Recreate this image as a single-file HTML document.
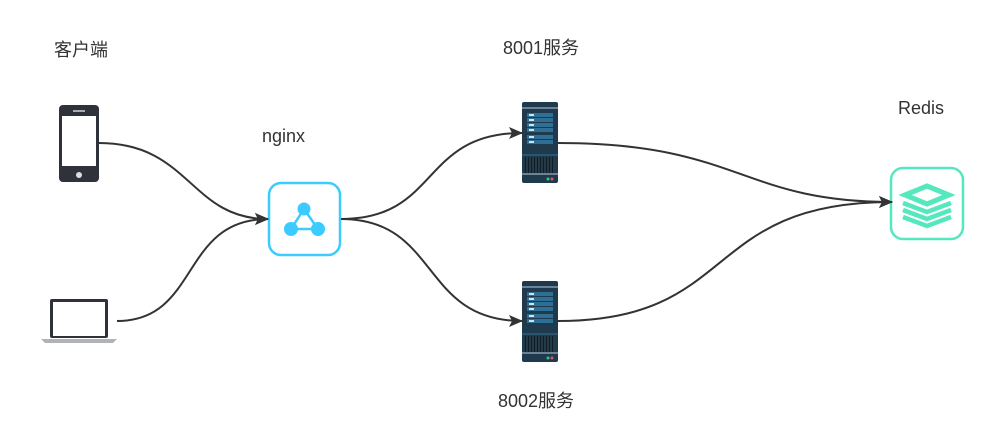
<!DOCTYPE html>
<html><head><meta charset="utf-8"><style>
html,body{margin:0;padding:0;background:#fff;}
svg{display:block;}
text{font-family:"Liberation Sans","Noto Sans CJK SC",sans-serif;font-size:18px;fill:#333;}
</style></head><body>
<svg width="1008" height="443" viewBox="0 0 1008 443" xmlns="http://www.w3.org/2000/svg">
<defs>
<marker id="a" markerWidth="14" markerHeight="12" refX="13" refY="6" orient="auto" markerUnits="userSpaceOnUse">
<path d="M0,0 L14,6 L0,12 L3,6 Z" fill="#333"/></marker>
<g id="srv">
<rect x="0" y="0" width="36" height="81" rx="2" fill="#1f3a4d"/>
<rect x="0" y="5" width="36" height="2" fill="#6b8394"/>
<rect x="5" y="11" width="26" height="4" fill="#2e6f96"/>
<rect x="5" y="16" width="26" height="4" fill="#2e6f96"/>
<rect x="5" y="21" width="26" height="4" fill="#2e6f96"/>
<rect x="5" y="26" width="26" height="4" fill="#2e6f96"/>
<rect x="5" y="33" width="26" height="4" fill="#2e6f96"/>
<rect x="5" y="38" width="26" height="4" fill="#2e6f96"/>
<rect x="7" y="12" width="5" height="2" fill="#cfe3ee"/><rect x="7" y="17" width="5" height="2" fill="#cfe3ee"/>
<rect x="7" y="22" width="5" height="2" fill="#cfe3ee"/><rect x="7" y="27" width="5" height="2" fill="#cfe3ee"/>
<rect x="7" y="34" width="5" height="2" fill="#cfe3ee"/><rect x="7" y="39" width="5" height="2" fill="#cfe3ee"/>
<rect x="0" y="52" width="36" height="2" fill="#2a5570"/>
<rect x="3" y="55" width="30" height="16" fill="#0f1d27"/>
<path d="M5,55v16M8,55v16M11,55v16M14,55v16M17,55v16M20,55v16M23,55v16M26,55v16M29,55v16M32,55v16" stroke="#3b5567" stroke-width="1"/>
<rect x="0" y="71" width="36" height="2" fill="#6b8394"/>
<circle cx="26" cy="77" r="1.5" fill="#2ecc71"/><circle cx="30" cy="77" r="1.5" fill="#e74c6c"/>
</g>
</defs>
<text x="54" y="56">客户端</text>
<text x="262" y="142">nginx</text>
<text x="503" y="54">8001服务</text>
<text x="498" y="407">8002服务</text>
<text x="898" y="114">Redis</text>

<!-- phone -->
<rect x="59" y="105" width="40" height="77" rx="4" fill="#2f323b"/>
<rect x="62" y="116" width="34" height="50" fill="#fff"/>
<rect x="73" y="110" width="12" height="2" fill="#aaa"/>
<circle cx="79" cy="175" r="3" fill="#ddd"/>
<!-- laptop -->
<rect x="50" y="299" width="58" height="39" rx="2" fill="#2f323b"/>
<rect x="53" y="302" width="52" height="34" fill="#fff"/>
<path d="M41,339 H117 L113,343 H45 Z" fill="#b0b2b7"/>

<!-- nginx -->
<rect x="269" y="183" width="71" height="72" rx="12" fill="#fff" stroke="#3ccbff" stroke-width="2.5"/>
<path d="M304,209 L291,229 L318,229 Z" fill="none" stroke="#3ccbff" stroke-width="2.5"/>
<circle cx="304" cy="209" r="6.5" fill="#3ccbff"/>
<circle cx="291" cy="229" r="7" fill="#3ccbff"/>
<circle cx="318" cy="229" r="7" fill="#3ccbff"/>

<use href="#srv" x="522" y="102"/>
<use href="#srv" x="522" y="281"/>

<!-- redis -->
<rect x="891" y="168" width="72" height="71" rx="12" fill="#fff" stroke="#55e8be" stroke-width="2.5"/>
<g fill="none" stroke="#55e8be" stroke-linejoin="miter">
<path d="M905,195 L927,186 L949,195 L927,204 Z" stroke-width="5"/>
<path d="M903,203 L927,212 L951,203" stroke-width="4.5"/>
<path d="M903,210 L927,219 L951,210" stroke-width="4.5"/>
<path d="M903,217 L927,226 L951,217" stroke-width="4.5"/>
</g>

<g fill="none" stroke="#333" stroke-width="2">
<path d="M99,143 C190,143 190,219 268,219" marker-end="url(#a)"/>
<path d="M117,321 C200,321 180,219 268,219" marker-end="url(#a)"/>
<path d="M341,219 C440,219 420,133 522,133" marker-end="url(#a)"/>
<path d="M341,219 C440,219 420,321 522,321" marker-end="url(#a)"/>
<path d="M558,143 C740,143 740,202 892,202" marker-end="url(#a)"/>
<path d="M558,321 C740,321 700,202 892,202" marker-end="url(#a)"/>
</g>
</svg>
</body></html>
